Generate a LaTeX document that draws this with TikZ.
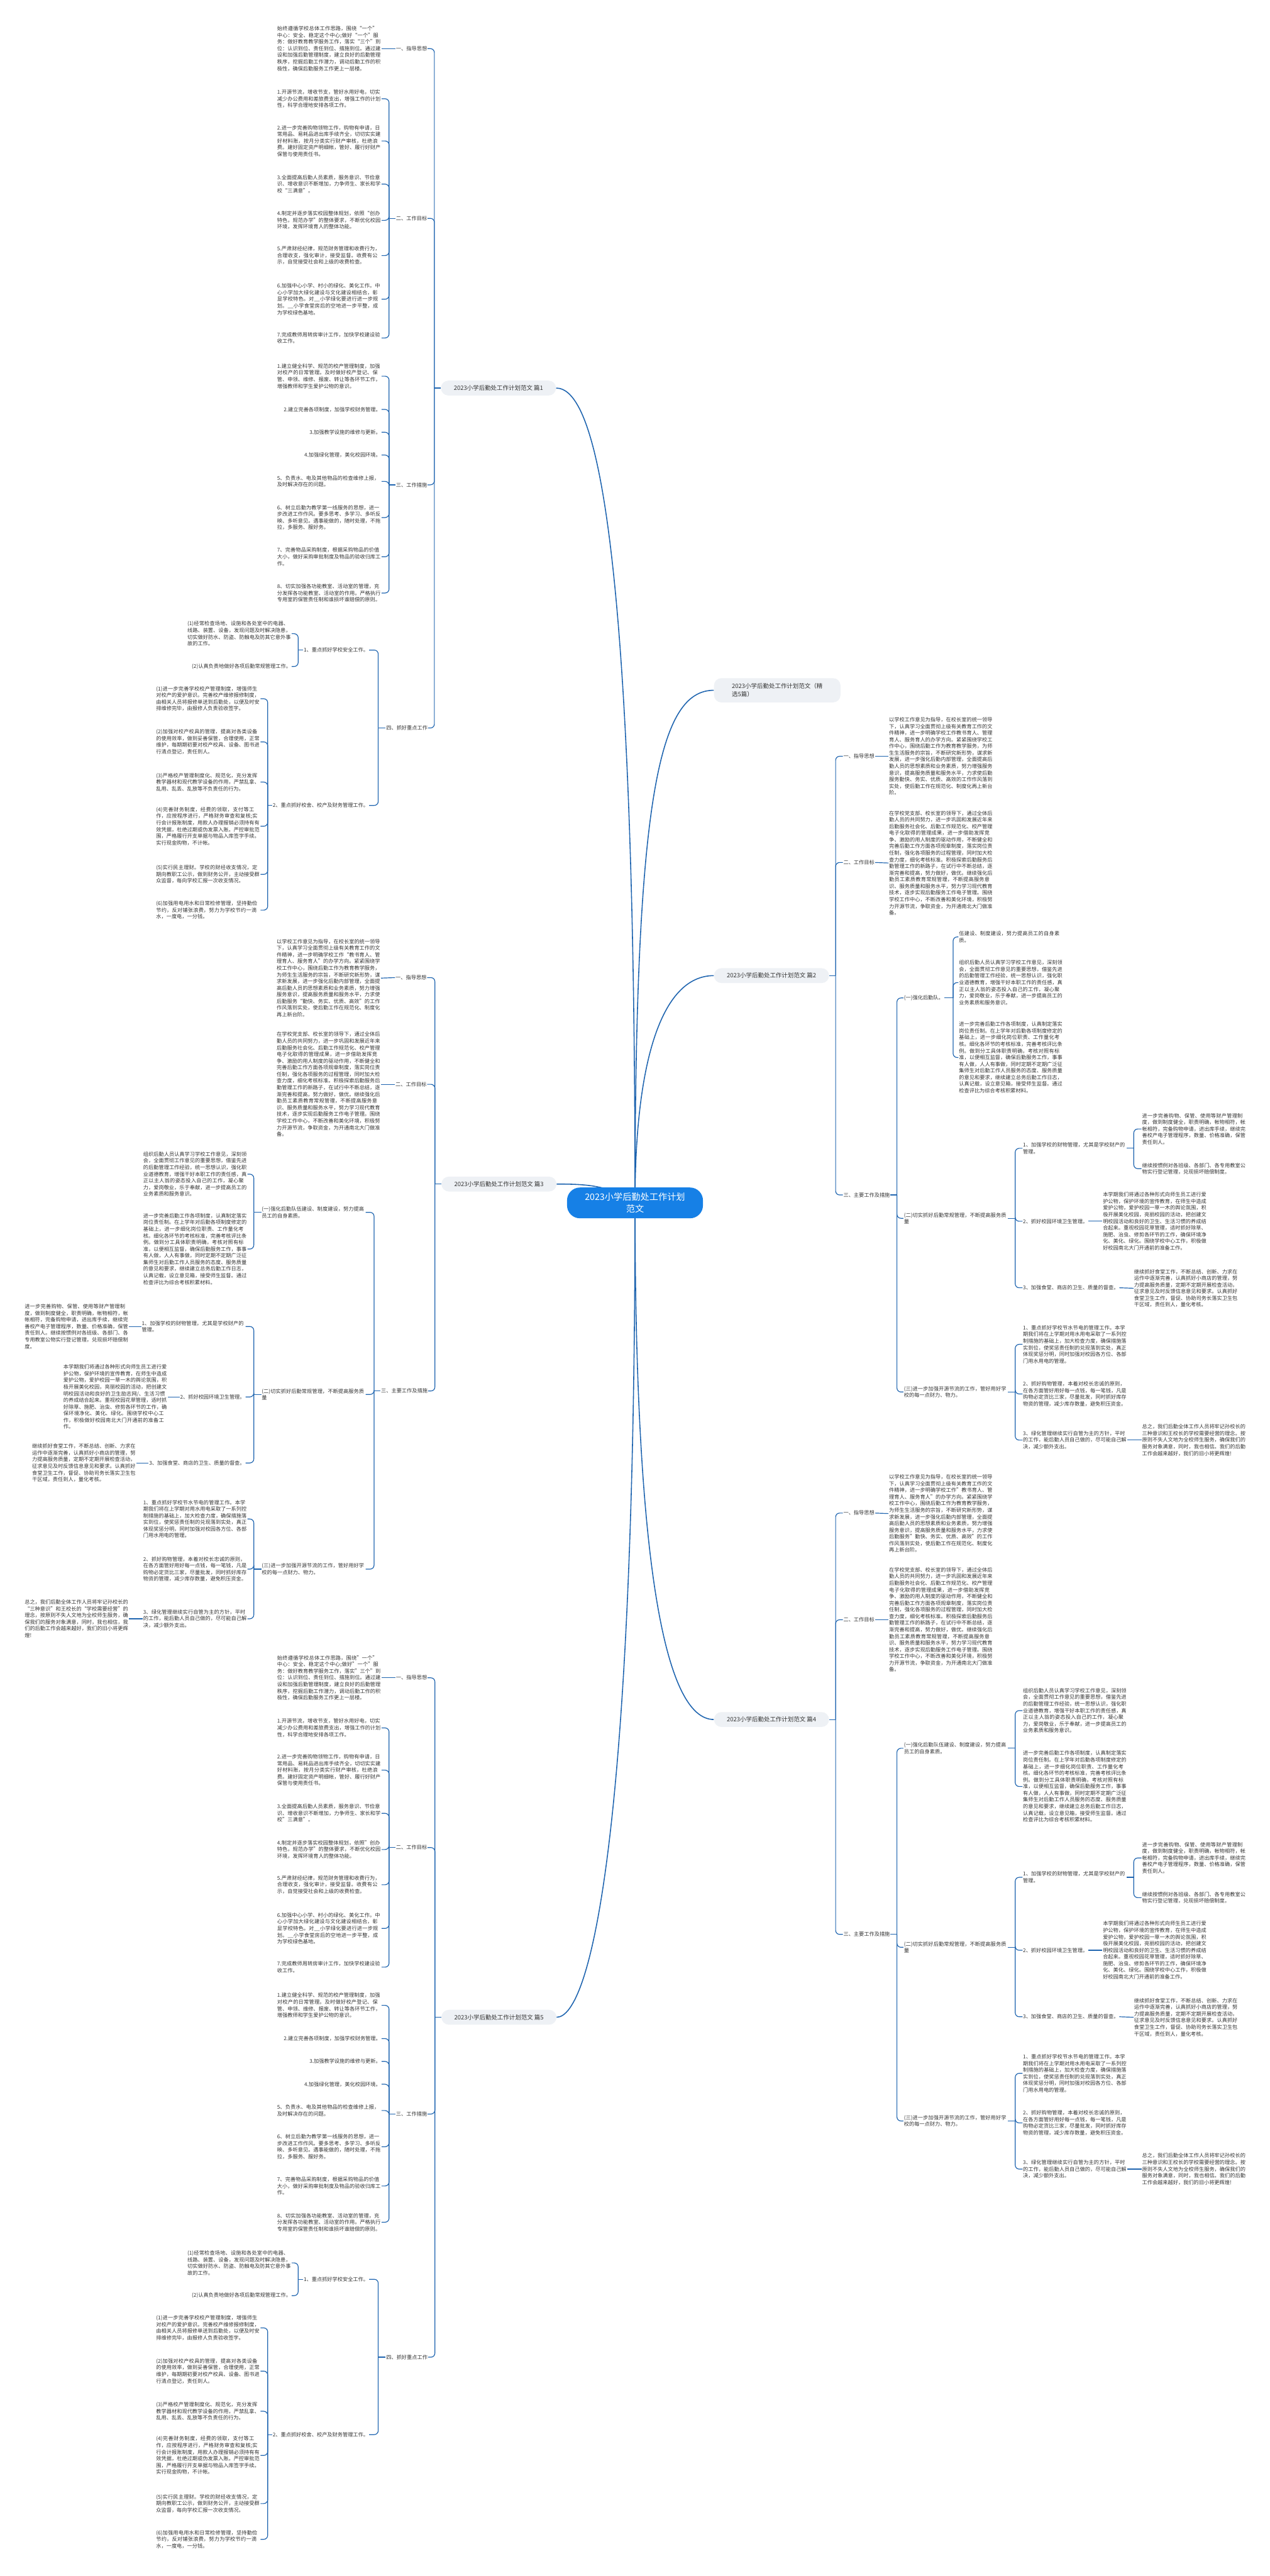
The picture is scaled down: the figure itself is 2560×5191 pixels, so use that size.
\documentclass[tikz,border=0pt]{standalone}
\usepackage{fontspec}
\setmainfont{Noto Sans CJK SC}
\usepackage{xcolor}
\usepackage{tikz}
\usetikzlibrary{backgrounds}
\XeTeXlinebreaklocale "zh"
\XeTeXlinebreakskip=0pt plus 1pt

\definecolor{rootblue}{RGB}{22,128,230}
\definecolor{linkblue}{RGB}{30,100,175}
\definecolor{partfill}{RGB}{238,241,245}
\definecolor{inkgray}{RGB}{51,51,51}

\begin{document}
\begin{tikzpicture}[x=1pt, y=-1pt,
    root/.style={rectangle, rounded corners=26pt, fill=rootblue, text=white, minimum width=274pt, minimum height=62pt, align=center, font=\fontsize{18}{24}\selectfont},
    part/.style={rectangle, rounded corners=15pt, fill=partfill, text=inkgray, minimum width=232pt, minimum height=30pt, align=left, font=\fontsize{12}{17}\selectfont},
    topic/.style={text=inkgray, inner sep=1pt, font=\fontsize{10.4}{13.4}\selectfont},
    topicw/.style={topic, text width=208pt, align=left},
    leaf/.style={topic, text width=209pt, align=left},
    trunk/.style={draw=linkblue, line width=2pt},
    link/.style={draw=linkblue, line width=1.5pt},
    brace/.style={draw=linkblue, line width=1.5pt, rounded corners=8pt}
]
    \useasboundingbox (0,0) rectangle (2560,5191);

    % centre and the six parts
    \node[root] (root) at (1280,2424) {2023小学后勤处工作计划\\范文};
    \node[part, anchor=west, minimum width=255pt, minimum height=49pt] (pick) at (1439,1391) {2023小学后勤处工作计划范文（精\\选5篇）};
    \node[part, anchor=east] (p1) at (1121,782) {2023小学后勤处工作计划范文 篇1};
    \node[part, anchor=west] (p2) at (1439,1966) {2023小学后勤处工作计划范文 篇2};
    \node[part, anchor=east] (p3) at (1122,2386) {2023小学后勤处工作计划范文 篇3};
    \node[part, anchor=west] (p4) at (1439,3465) {2023小学后勤处工作计划范文 篇4};
    \node[part, anchor=east] (p5) at (1122,4065) {2023小学后勤处工作计划范文 篇5};

    % 篇1
    \node[topic, anchor=east] (p1a) at (862,98) {一、指导思想};
    \node[leaf, anchor=east] (p1a1) at (769,98) {始终遵循学校总体工作思路，围绕“一个”中心：安全、稳定这个中心;做好“一个”服务：做好教育教学服务工作，落实“三个”到位：认识到位、责任到位、措施到位。通过建设和加强后勤管理制度，建立良好的后勤管理秩序，挖掘后勤工作潜力，调动后勤工作的积极性，确保后勤服务工作更上一层楼。};
    \node[topic, anchor=east] (p1b) at (862,440) {二、工作目标};
    \node[leaf, anchor=east] (p1b1) at (769,199) {1.开源节流，增收节支，管好水用好电，切实减少办公费用和差旅费支出，增强工作的计划性，科学合理地安排各项工作。};
    \node[leaf, anchor=east] (p1b2) at (769,284) {2.进一步完善购物领物工作，购物有申请，日常用品、易耗品进出库手续齐全，切切实实建好材料账，按月分类实行财产审核，杜绝浪费。建好固定资产明细帐，管好、履行好财产保管与使用责任书。};
    \node[leaf, anchor=east] (p1b3) at (769,371) {3.全面提高后勤人员素质，服务意识、节俭意识、增收意识不断增加，力争师生、家长和学校“三满意”。};
    \node[leaf, anchor=east] (p1b4) at (769,444) {4.制定并逐步落实校园整体规划，依照“创办特色，规范办学”的整体要求，不断优化校园环境，发挥环境育人的整体功能。};
    \node[leaf, anchor=east] (p1b5) at (769,515) {5.严肃财经纪律，规范财务管理和收费行为，合理收支，强化审计，接受监督。收费有公示，自觉接受社会和上级的收费检查。};
    \node[leaf, anchor=east] (p1b6) at (769,603) {6.加强中心小学、村小的绿化、美化工作。中心小学加大绿化建设与文化建设相结合，彰显学校特色。对\_\_小学绿化要进行进一步规划。\_\_小学食堂房后的空地进一步平整，成为学校绿色基地。};
    \node[leaf, anchor=east] (p1b7) at (769,681) {7.完成教师周转房审计工作，加快学校建设验收工作。};
    \node[topic, anchor=east] (p1c) at (862,977) {三、工作措施};
    \node[leaf, anchor=east] (p1c1) at (769,758) {1.建立健全科学、规范的校产管理制度，加强对校产的日常管理。及时做好校产登记、保管、申领、维修、报废、转让等各环节工作，增强教师和学生爱护公物的意识。};
    \node[topic, anchor=east] (p1c2) at (769,825) {2.建立完善各项制度，加强学校财务管理。};
    \node[topic, anchor=east] (p1c3) at (769,871) {3.加强教学设施的维修与更新。};
    \node[topic, anchor=east] (p1c4) at (769,917) {4.加强绿化管理，美化校园环境。};
    \node[leaf, anchor=east] (p1c5) at (769,970) {5、负责水、电及其他物品的检查维修上报，及时解决存在的问题。};
    \node[leaf, anchor=east] (p1c6) at (769,1043) {6、树立后勤为教学第一线服务的思想，进一步改进工作作风。要多思考、多学习、多听反映、多听意见。遇事能做的，随时处理，不拖拉，多服务、服好务。};
    \node[leaf, anchor=east] (p1c7) at (769,1122) {7、完善物品采购制度，根据采购物品的价值大小，做好采购审批制度及物品的验收归库工作。};
    \node[leaf, anchor=east] (p1c8) at (769,1195) {8、切实加强各功能教室、活动室的管理，充分发挥各功能教室、活动室的作用。严格执行专用室的保管责任制和谁损坏谁赔偿的原则。};
    \node[topic, anchor=east] (p1d) at (863,1467) {四、抓好重点工作};
    \node[topic, anchor=east] (p1d1) at (744,1310) {1、重点抓好学校安全工作。};
    \node[leaf, anchor=east] (p1d1a) at (588,1277) {(1)经常检查场地、设施和各处室中的电器、线路、装置、设备，发现问题及时解决隐患，切实做好防水、防盗、防触电及防其它意外事故的工作。};
    \node[topic, anchor=east] (p1d1b) at (588,1343) {(2)认真负责地做好各项后勤常规管理工作。};
    \node[topic, anchor=east] (p1d2) at (744,1623) {2、重点抓好校舍、校产及财务管理工作。};
    \node[leaf, anchor=east] (p1d2a) at (525,1408) {(1)进一步完善学校校产管理制度，增强师生对校产的爱护意识。完善校产维修报修制度，由相关人员将报修单送到后勤处，以便及时安排维修完毕，由报修人负责验收签字。};
    \node[leaf, anchor=east] (p1d2b) at (525,1495) {(2)加强对校产校具的管理，提高对各类设备的使用效率，做到妥善保管，合理使用，正常维护，每期期初要对校产校具、设备、图书进行清点登记，责任到人。};
    \node[leaf, anchor=east] (p1d2c) at (525,1576) {(3)严格校产管理制度化、规范化，充分发挥教学器材和现代教学设备的作用，严禁乱拿、乱用、乱丢、乱放等不负责任的行为。};
    \node[leaf, anchor=east] (p1d2d) at (525,1665) {(4)完善财务制度，经费的领取，支付等工作，应按程序进行，严格财务审查和复核;实行会计报账制度，用款人办理报销必须持有有效凭据，杜绝过期或伪发票入账。严控审批范围，严格履行开支单据与物品入库签字手续。实行现金购物，不计帐。};
    \node[leaf, anchor=east] (p1d2e) at (525,1762) {(5)实行民主理财。学校的财经收支情况，定期向教职工公示，做到财务公开，主动接受群众监督，每向学校汇报一次收支情况。};
    \node[leaf, anchor=east] (p1d2f) at (525,1834) {(6)加强用电用水和日常检修管理，坚持勤俭节约，反对铺张浪费，努力为学校节约一滴水，一度电，一分钱。};

    % 篇2
    \node[topic, anchor=west] (p2a) at (1699,1524) {一、指导思想};
    \node[leaf, anchor=west] (p2a1) at (1791,1524) {以学校工作意见为指导，在校长室的统一领导下，认真学习全面贯彻上级有关教育工作的文件精神，进一步明确学校工作教书育人、管理育人、服务育人的办学方向。紧紧围绕学校工作中心，围绕后勤工作为教育教学服务，为师生生活服务的宗旨，不断研究新形势，谋求新发展，进一步强化后勤内部管理，全面提高后勤人员的思想素质和业务素质，努力增强服务意识，提高服务质量和服务水平，力求使后勤服务勤快、务实、优质、高效的工作作风落到实处，使后勤工作在规范化、制度化再上新台阶。};
    \node[topic, anchor=west] (p2b) at (1699,1738) {二、工作目标};
    \node[leaf, anchor=west] (p2b1) at (1791,1739) {在学校党支部、校长室的领导下，通过全体后勤人员的共同努力，进一步巩固和发展近年来后勤服务社会化、后勤工作规范化、校产管理电子化取得的管理成果，进一步借助发挥竞争、激励的用人制度的驱动作用，不断健全和完善后勤工作方面各项规章制度，落实岗位责任制，强化各项服务的过程管理，同时加大检查力度，细化考核标准。积极探索后勤服务后勤管理工作的新路子，在试行中不断总结，逐渐完善和提高，努力做好，做优。继续强化后勤员工素质教育常规管理，不断提高服务意识、服务质量和服务水平，努力学习现代教育技术，逐步实现后勤服务工作电子管理。围绕学校工作中心，不断改善和美化环境，积极努力开源节流，争取资金，为开通南北大门做准备。};
    \node[topic, anchor=west] (p2c) at (1699,2408) {三、主要工作及措施};
    \node[topic, anchor=west] (p2c1) at (1821,2011) {(一)强化后勤队。};
    \node[leaf, anchor=west] (p2c1a) at (1932,1888) {伍建设、制度建设，努力提高员工的自身素质。};
    \node[leaf, anchor=west] (p2c1b) at (1932,1980) {组织后勤人员认真学习学校工作意见，深刻领会，全面贯彻工作意见的重要思想，借鉴先进的后勤管理工作经验，统一思想认识，强化职业道德教育，增强干好本职工作的责任感，真正以主人翁的姿态投入自己的工作，凝心聚力，爱岗敬业，乐于奉献，进一步提高员工的业务素质和服务意识。};
    \node[leaf, anchor=west] (p2c1c) at (1932,2131) {进一步完善后勤工作各项制度，认真制定落实岗位责任制。在上学年对后勤各项制度修定的基础上，进一步细化岗位职责、工作量化考核。细化各环节的考核标准，完善考核评比条例。做到分工具体职责明确，考核对照有标准，以便相互监督，确保后勤服务工作，事事有人做，人人有事做，同时定期不定期广泛征集师生对后勤工作人员服务的态度、服务质量的意见和要求，继续建立总务后勤工作日志，认真记载，设立意见箱，接受师生监督。通过检查评比为综合考核积累材料。};
    \node[topicw, anchor=west] (p2c2) at (1821,2455) {(二)切实抓好后勤常规管理，不断提高服务质量};
    \node[topicw, anchor=west] (p2c2a) at (2061,2314) {1、加强学校的财物管理，尤其是学校财产的管理。};
    \node[leaf, anchor=west] (p2c2a1) at (2301,2275) {进一步完善购物、保管、使用等财产管理制度，做到制度健全，职责明确，帐物相符，帐帐相符，完备购物申请，进出库手续，继续完善校产电子管理程序，数量、价格准确，保管责任到人。};
    \node[leaf, anchor=west] (p2c2a2) at (2301,2355) {继续按惯例对各班级、各部门、各专用教室公物实行登记管理，兑现损坏赔偿制度。};
    \node[topic, anchor=west] (p2c2b) at (2061,2461) {2、抓好校园环境卫生管理。};
    \node[leaf, anchor=west] (p2c2b1) at (2222,2461) {本学期我们将通过各种形式向师生员工进行爱护公物，保护环境的宣传教育，在师生中造成爱护公物，爱护校园一草一木的舆论氛围，积极开展美化校园，亮丽校园的活动，把创建文明校园活动和良好的卫生、生活习惯的养成结合起来。重视校园花草管理，适时抓好除草、施肥、治虫、修剪各环节的工作，确保环境净化、美化、绿化。围绕学校中心工作，积极做好校园南北大门开通前的准备工作。};
    \node[topic, anchor=west] (p2c2c) at (2061,2595) {3、加强食堂、商店的卫生、质量的督查。};
    \node[leaf, anchor=west] (p2c2c1) at (2285,2596) {继续抓好食堂工作，不断总结、创新、力求在运作中逐渐完善，认真抓好小商店的管理，努力提高服务质量，定期不定期开展检查活动，征求意见及时反馈信息意见和要求。认真抓好食堂卫生工作，督促、协助司务长落实卫生包干区域，责任到人，量化考核。};
    \node[topicw, anchor=west] (p2c3) at (1821,2805) {(三)进一步加强开源节流的工作，管好用好学校的每一点财力、物力。};
    \node[leaf, anchor=west] (p2c3a) at (2061,2709) {1、重点抓好学校节水节电的管理工作。本学期我们将在上学期对用水用电采取了一系列控制措施的基础上，加大检查力度，确保措施落实到位，使奖惩责任制的兑现落到实处，真正体现奖惩分明，同时加强对校园各方位、各部门用水用电的管理。};
    \node[leaf, anchor=west] (p2c3b) at (2061,2809) {2、抓好购物管理，本着对校长忠诚的原则，在各方面管好用好每一点钱，每一笔钱，凡是购物必定货比三家，尽量批发，同时抓好库存物资的管理，减少库存数量，避免积压资金。};
    \node[leaf, anchor=west] (p2c3c) at (2061,2902) {3、绿化管理继续实行自管为主的方针，平时的工作，能后勤人员自己做的，尽可能自己解决，减少额外支出。};
    \node[leaf, anchor=west] (p2c3c1) at (2301,2902) {总之，我们后勤全体工作人员将牢记孙校长的三种意识和王校长的学校需要经营的理念。按原则不失人文地为全校师生服务，确保我们的服务对象满意，同时，我也相信。我们的后勤工作会越来越好，我们的旧小将更辉煌!};

    % 篇3
    \node[topic, anchor=east] (p3a) at (861,1970) {一、指导思想};
    \node[leaf, anchor=east] (p3a1) at (768,1971) {以学校工作意见为指导，在校长室的统一领导下，认真学习全面贯彻上级有关教育工作的文件精神，进一步明确学校工作“教书育人、管理育人、服务育人”的办学方向。紧紧围绕学校工作中心，围绕后勤工作为教育教学服务，为师生生活服务的宗旨，不断研究新形势，谋求新发展，进一步强化后勤内部管理，全面提高后勤人员的思想素质和业务素质，努力增强服务意识，提高服务质量和服务水平，力求使后勤服务“勤快、务实、优质、高效”的工作作风落到实处，使后勤工作在规范化、制度化再上新台阶。};
    \node[topic, anchor=east] (p3b) at (861,2185) {二、工作目标};
    \node[leaf, anchor=east] (p3b1) at (768,2185) {在学校党支部、校长室的领导下，通过全体后勤人员的共同努力，进一步巩固和发展近年来后勤服务社会化、后勤工作规范化、校产管理电子化取得的管理成果，进一步借助发挥竞争、激励的用人制度的驱动作用，不断健全和完善后勤工作方面各项规章制度，落实岗位责任制，强化各项服务的过程管理，同时加大检查力度，细化考核标准。积极探索后勤服务后勤管理工作的新路子，在试行中不断总结，逐渐完善和提高，努力做好，做优。继续强化后勤员工素质教育常规管理，不断提高服务意识、服务质量和服务水平，努力学习现代教育技术，逐步实现后勤服务工作电子管理。围绕学校工作中心，不断改善和美化环境，积极努力开源节流，争取资金，为开通南北大门做准备。};
    \node[topic, anchor=east] (p3c) at (863,2803) {三、主要工作及措施};
    \node[topicw, anchor=east] (p3c1) at (737,2443) {(一)强化后勤队伍建设、制度建设，努力提高员工的自身素质。};
    \node[leaf, anchor=east] (p3c1a) at (499,2366) {组织后勤人员认真学习学校工作意见，深刻领会，全面贯彻工作意见的重要思想，借鉴先进的后勤管理工作经验，统一思想认识，强化职业道德教育，增强干好本职工作的责任感，真正以主人翁的姿态投入自己的工作，凝心聚力，爱岗敬业，乐于奉献，进一步提高员工的业务素质和服务意识。};
    \node[leaf, anchor=east] (p3c1b) at (499,2517) {进一步完善后勤工作各项制度，认真制定落实岗位责任制。在上学年对后勤各项制度修定的基础上，进一步细化岗位职责、工作量化考核。细化各环节的考核标准，完善考核评比条例。做到分工具体职责明确，考核对照有标准，以便相互监督，确保后勤服务工作，事事有人做，人人有事做，同时定期不定期广泛征集师生对后勤工作人员服务的态度、服务质量的意见和要求，继续建立总务后勤工作日志，认真记载，设立意见箱，接受师生监督。通过检查评比为综合考核积累材料。};
    \node[topicw, anchor=east] (p3c2) at (737,2810) {(二)切实抓好后勤常规管理，不断提高服务质量};
    \node[topicw, anchor=east] (p3c2a) at (495,2673) {1、加强学校的财物管理，尤其是学校财产的管理。};
    \node[leaf, anchor=east] (p3c2a1) at (260,2673) {进一步完善购物、保管、使用等财产管理制度，做到制度健全，职责明确，帐物相符，帐帐相符，完备购物申请，进出库手续，继续完善校产电子管理程序，数量、价格准确，保管责任到人。继续按惯例对各班级、各部门、各专用教室公物实行登记管理，兑现损坏赔偿制度。};
    \node[topic, anchor=east] (p3c2b) at (495,2815) {2、抓好校园环境卫生管理。};
    \node[leaf, anchor=east] (p3c2b1) at (338,2815) {本学期我们将通过各种形式向师生员工进行爱护公物，保护环境的宣传教育，在师生中造成爱护公物，爱护校园一草一木的舆论氛围，积极开展美化校园，亮丽校园的活动，把创建文明校园活动和良好的卫生励志网/、生活习惯的养成结合起来。重视校园花草管理，适时抓好除草、施肥、治虫、修剪各环节的工作，确保环境净化、美化、绿化。围绕学校中心工作，积极做好校园南北大门开通前的准备工作。};
    \node[topic, anchor=east] (p3c2c) at (495,2948) {3、加强食堂、商店的卫生、质量的督查。};
    \node[leaf, anchor=east] (p3c2c1) at (275,2948) {继续抓好食堂工作，不断总结、创新、力求在运作中逐渐完善，认真抓好小商店的管理，努力提高服务质量，定期不定期开展检查活动，征求意见及时反馈信息意见和要求。认真抓好食堂卫生工作，督促、协助司务长落实卫生包干区域，责任到人，量化考核。};
    \node[topicw, anchor=east] (p3c3) at (737,3162) {(三)进一步加强开源节流的工作，管好用好学校的每一点财力、物力。};
    \node[leaf, anchor=east] (p3c3a) at (499,3061) {1、重点抓好学校节水节电的管理工作。本学期我们将在上学期对用水用电采取了一系列控制措施的基础上，加大检查力度，确保措施落实到位，使奖惩责任制的兑现落到实处，真正体现奖惩分明，同时加强对校园各方位、各部门用水用电的管理。};
    \node[leaf, anchor=east] (p3c3b) at (499,3162) {2、抓好购物管理，本着对校长忠诚的原则，在各方面管好用好每一点钱，每一笔钱，凡是购物必定货比三家，尽量批发，同时抓好库存物资的管理，减少库存数量，避免积压资金。};
    \node[leaf, anchor=east] (p3c3c) at (499,3262) {3、绿化管理继续实行自管为主的方针，平时的工作，能后勤人员自己做的，尽可能自己解决，减少额外支出。};
    \node[leaf, anchor=east] (p3c3c1) at (260,3262) {总之，我们后勤全体工作人员将牢记孙校长的“三种意识”和王校长的“学校需要经营”的理念，按原则不失人文地为全校师生服务，确保我们的服务对象满意，同时，我也相信，我们的后勤工作会越来越好，我们的旧小将更辉煌!};

    % 篇4
    \node[topic, anchor=west] (p4a) at (1699,3049) {一、指导思想};
    \node[leaf, anchor=west] (p4a1) at (1791,3050) {以学校工作意见为指导，在校长室的统一领导下，认真学习全面贯彻上级有关教育工作的文件精神，进一步明确学校工作"教书育人、管理育人、服务育人"的办学方向。紧紧围绕学校工作中心，围绕后勤工作为教育教学服务，为师生生活服务的宗旨，不断研究新形势，谋求新发展，进一步强化后勤内部管理，全面提高后勤人员的思想素质和业务素质，努力增强服务意识，提高服务质量和服务水平，力求使后勤服务"勤快、务实、优质、高效"的工作作风落到实处，使后勤工作在规范化、制度化再上新台阶。};
    \node[topic, anchor=west] (p4b) at (1699,3264) {二、工作目标};
    \node[leaf, anchor=west] (p4b1) at (1791,3264) {在学校党支部、校长室的领导下，通过全体后勤人员的共同努力，进一步巩固和发展近年来后勤服务社会化、后勤工作规范化、校产管理电子化取得的管理成果，进一步借助发挥竞争、激励的用人制度的驱动作用，不断健全和完善后勤工作方面各项规章制度，落实岗位责任制，强化各项服务的过程管理，同时加大检查力度，细化考核标准。积极探索后勤服务后勤管理工作的新路子，在试行中不断总结，逐渐完善和提高，努力做好，做优。继续强化后勤员工素质教育常规管理，不断提高服务意识、服务质量和服务水平，努力学习现代教育技术，逐步实现后勤服务工作电子管理。围绕学校工作中心，不断改善和美化环境，积极努力开源节流，争取资金，为开通南北大门做准备。};
    \node[topic, anchor=west] (p4c) at (1699,3898) {三、主要工作及措施};
    \node[topicw, anchor=west] (p4c1) at (1821,3523) {(一)强化后勤队伍建设、制度建设，努力提高员工的自身素质。};
    \node[leaf, anchor=west] (p4c1a) at (2061,3447) {组织后勤人员认真学习学校工作意见，深刻领会，全面贯彻工作意见的重要思想，借鉴先进的后勤管理工作经验，统一思想认识，强化职业道德教育，增强干好本职工作的责任感，真正以主人翁的姿态投入自己的工作，凝心聚力，爱岗敬业，乐于奉献，进一步提高员工的业务素质和服务意识。};
    \node[leaf, anchor=west] (p4c1b) at (2061,3600) {进一步完善后勤工作各项制度，认真制定落实岗位责任制。在上学年对后勤各项制度修定的基础上，进一步细化岗位职责、工作量化考核。细化各环节的考核标准，完善考核评比条例。做到分工具体职责明确，考核对照有标准，以便相互监督，确保后勤服务工作，事事有人做，人人有事做，同时定期不定期广泛征集师生对后勤工作人员服务的态度、服务质量的意见和要求，继续建立总务后勤工作日志，认真记载，设立意见箱，接受师生监督。通过检查评比为综合考核积累材料。};
    \node[topicw, anchor=west] (p4c2) at (1821,3924) {(二)切实抓好后勤常规管理，不断提高服务质量};
    \node[topicw, anchor=west] (p4c2a) at (2061,3783) {1、加强学校的财物管理，尤其是学校财产的管理。};
    \node[leaf, anchor=west] (p4c2a1) at (2301,3744) {进一步完善购物、保管、使用等财产管理制度，做到制度健全，职责明确，帐物相符，帐帐相符，完备购物申请，进出库手续，继续完善校产电子管理程序，数量、价格准确，保管责任到人。};
    \node[leaf, anchor=west] (p4c2a2) at (2301,3824) {继续按惯例对各班级、各部门、各专用教室公物实行登记管理，兑现损坏赔偿制度。};
    \node[topic, anchor=west] (p4c2b) at (2061,3930) {2、抓好校园环境卫生管理。};
    \node[leaf, anchor=west] (p4c2b1) at (2222,3930) {本学期我们将通过各种形式向师生员工进行爱护公物，保护环境的宣传教育，在师生中造成爱护公物，爱护校园一草一木的舆论氛围，积极开展美化校园，亮丽校园的活动，把创建文明校园活动和良好的卫生、生活习惯的养成结合起来。重视校园花草管理，适时抓好除草、施肥、治虫、修剪各环节的工作，确保环境净化、美化、绿化。围绕学校中心工作，积极做好校园南北大门开通前的准备工作。};
    \node[topic, anchor=west] (p4c2c) at (2061,4064) {3、加强食堂、商店的卫生、质量的督查。};
    \node[leaf, anchor=west] (p4c2c1) at (2285,4065) {继续抓好食堂工作，不断总结、创新、力求在运作中逐渐完善，认真抓好小商店的管理，努力提高服务质量，定期不定期开展检查活动，征求意见及时反馈信息意见和要求。认真抓好食堂卫生工作，督促、协助司务长落实卫生包干区域，责任到人，量化考核。};
    \node[topicw, anchor=west] (p4c3) at (1821,4274) {(三)进一步加强开源节流的工作，管好用好学校的每一点财力、物力。};
    \node[leaf, anchor=west] (p4c3a) at (2061,4178) {1、重点抓好学校节水节电的管理工作。本学期我们将在上学期对用水用电采取了一系列控制措施的基础上，加大检查力度，确保措施落实到位，使奖惩责任制的兑现落到实处，真正体现奖惩分明，同时加强对校园各方位、各部门用水用电的管理。};
    \node[leaf, anchor=west] (p4c3b) at (2061,4278) {2、抓好购物管理，本着对校长忠诚的原则，在各方面管好用好每一点钱，每一笔钱，凡是购物必定货比三家，尽量批发，同时抓好库存物资的管理，减少库存数量，避免积压资金。};
    \node[leaf, anchor=west] (p4c3c) at (2061,4371) {3、绿化管理继续实行自管为主的方针，平时的工作，能后勤人员自己做的，尽可能自己解决，减少额外支出。};
    \node[leaf, anchor=west] (p4c3c1) at (2301,4371) {总之，我们后勤全体工作人员将牢记孙校长的三种意识和王校长的学校需要经营的理念。按原则不失人文地为全校师生服务，确保我们的服务对象满意，同时，我也相信。我们的后勤工作会越来越好，我们的旧小将更辉煌!};

    % 篇5: same block as 篇1, one step lower
    \begin{scope}[yshift=-3283pt]
    \node[topic, anchor=east] (p5a) at (862,98) {一、指导思想};
    \node[leaf, anchor=east] (p5a1) at (769,98) {始终遵循学校总体工作思路，围绕"一个"中心：安全、稳定这个中心;做好"一个"服务：做好教育教学服务工作，落实"三个"到位：认识到位、责任到位、措施到位。通过建设和加强后勤管理制度，建立良好的后勤管理秩序，挖掘后勤工作潜力，调动后勤工作的积极性，确保后勤服务工作更上一层楼。};
    \node[topic, anchor=east] (p5b) at (862,440) {二、工作目标};
    \node[leaf, anchor=east] (p5b1) at (769,199) {1.开源节流，增收节支，管好水用好电，切实减少办公费用和差旅费支出，增强工作的计划性，科学合理地安排各项工作。};
    \node[leaf, anchor=east] (p5b2) at (769,284) {2.进一步完善购物领物工作，购物有申请，日常用品、易耗品进出库手续齐全，切切实实建好材料账，按月分类实行财产审核，杜绝浪费。建好固定资产明细帐，管好、履行好财产保管与使用责任书。};
    \node[leaf, anchor=east] (p5b3) at (769,371) {3.全面提高后勤人员素质，服务意识、节俭意识、增收意识不断增加，力争师生、家长和学校"三满意"。};
    \node[leaf, anchor=east] (p5b4) at (769,444) {4.制定并逐步落实校园整体规划，依照"创办特色，规范办学"的整体要求，不断优化校园环境，发挥环境育人的整体功能。};
    \node[leaf, anchor=east] (p5b5) at (769,515) {5.严肃财经纪律，规范财务管理和收费行为，合理收支，强化审计，接受监督。收费有公示，自觉接受社会和上级的收费检查。};
    \node[leaf, anchor=east] (p5b6) at (769,603) {6.加强中心小学、村小的绿化、美化工作。中心小学加大绿化建设与文化建设相结合，彰显学校特色。对\_\_小学绿化要进行进一步规划。\_\_小学食堂房后的空地进一步平整，成为学校绿色基地。};
    \node[leaf, anchor=east] (p5b7) at (769,681) {7.完成教师周转房审计工作，加快学校建设验收工作。};
    \node[topic, anchor=east] (p5c) at (862,977) {三、工作措施};
    \node[leaf, anchor=east] (p5c1) at (769,758) {1.建立健全科学、规范的校产管理制度，加强对校产的日常管理。及时做好校产登记、保管、申领、维修、报废、转让等各环节工作，增强教师和学生爱护公物的意识。};
    \node[topic, anchor=east] (p5c2) at (769,825) {2.建立完善各项制度，加强学校财务管理。};
    \node[topic, anchor=east] (p5c3) at (769,871) {3.加强教学设施的维修与更新。};
    \node[topic, anchor=east] (p5c4) at (769,917) {4.加强绿化管理，美化校园环境。};
    \node[leaf, anchor=east] (p5c5) at (769,970) {5、负责水、电及其他物品的检查维修上报，及时解决存在的问题。};
    \node[leaf, anchor=east] (p5c6) at (769,1043) {6、树立后勤为教学第一线服务的思想，进一步改进工作作风。要多思考、多学习、多听反映、多听意见。遇事能做的，随时处理，不拖拉，多服务、服好务。};
    \node[leaf, anchor=east] (p5c7) at (769,1122) {7、完善物品采购制度，根据采购物品的价值大小，做好采购审批制度及物品的验收归库工作。};
    \node[leaf, anchor=east] (p5c8) at (769,1195) {8、切实加强各功能教室、活动室的管理，充分发挥各功能教室、活动室的作用。严格执行专用室的保管责任制和谁损坏谁赔偿的原则。};
    \node[topic, anchor=east] (p5d) at (863,1467) {四、抓好重点工作};
    \node[topic, anchor=east] (p5d1) at (744,1310) {1、重点抓好学校安全工作。};
    \node[leaf, anchor=east] (p5d1a) at (588,1277) {(1)经常检查场地、设施和各处室中的电器、线路、装置、设备，发现问题及时解决隐患，切实做好防水、防盗、防触电及防其它意外事故的工作。};
    \node[topic, anchor=east] (p5d1b) at (588,1343) {(2)认真负责地做好各项后勤常规管理工作。};
    \node[topic, anchor=east] (p5d2) at (744,1623) {2、重点抓好校舍、校产及财务管理工作。};
    \node[leaf, anchor=east] (p5d2a) at (525,1408) {(1)进一步完善学校校产管理制度，增强师生对校产的爱护意识。完善校产维修报修制度，由相关人员将报修单送到后勤处，以便及时安排维修完毕，由报修人负责验收签字。};
    \node[leaf, anchor=east] (p5d2b) at (525,1495) {(2)加强对校产校具的管理，提高对各类设备的使用效率，做到妥善保管，合理使用，正常维护，每期期初要对校产校具、设备、图书进行清点登记，责任到人。};
    \node[leaf, anchor=east] (p5d2c) at (525,1576) {(3)严格校产管理制度化、规范化，充分发挥教学器材和现代教学设备的作用，严禁乱拿、乱用、乱丢、乱放等不负责任的行为。};
    \node[leaf, anchor=east] (p5d2d) at (525,1665) {(4)完善财务制度，经费的领取，支付等工作，应按程序进行，严格财务审查和复核;实行会计报账制度，用款人办理报销必须持有有效凭据，杜绝过期或伪发票入账。严控审批范围，严格履行开支单据与物品入库签字手续。实行现金购物，不计帐。};
    \node[leaf, anchor=east] (p5d2e) at (525,1762) {(5)实行民主理财。学校的财经收支情况，定期向教职工公示，做到财务公开，主动接受群众监督，每向学校汇报一次收支情况。};
    \node[leaf, anchor=east] (p5d2f) at (525,1834) {(6)加强用电用水和日常检修管理，坚持勤俭节约，反对铺张浪费，努力为学校节约一滴水，一度电，一分钱。};
    \end{scope}

    \begin{pgfonlayer}{background}
    % trunk curves out of the centre
    \draw[trunk] (root.center) .. controls (1280,1000) and (1190,782) .. (p1.east);
    \draw[trunk] (root.center) .. controls (1230,2388) and (1180,2386) .. (p3.east);
    \draw[trunk] (root.center) .. controls (1280,3700) and (1190,4065) .. (p5.east);
    \draw[trunk] (root.center) .. controls (1280,1600) and (1330,1391) .. (pick.west);
    \draw[trunk] (root.center) .. controls (1280,2150) and (1330,1966) .. (p2.west);
    \draw[trunk] (root.center) .. controls (1280,3150) and (1340,3465) .. (p4.west);

    % 篇1 and 篇5 brackets
    \foreach \q in {p1,p5} {
        \draw[link] (\q.west) -- ++(-13,0) coordinate (\q s);
        \foreach \k in {a,b,c,d} \draw[brace] (\q s) |- (\q\k.east);
        \draw[link] (\q a.west) -- (\q a1.east);
        \draw[link] (\q b.west) -- ++(-13,0) coordinate (\q bs);
        \foreach \k in {1,...,7} \draw[brace] (\q bs) |- (\q b\k.east);
        \draw[link] (\q c.west) -- ++(-13,0) coordinate (\q cs);
        \foreach \k in {1,...,8} \draw[brace] (\q cs) |- (\q c\k.east);
        \draw[link] (\q d.west) -- ++(-15,0) coordinate (\q ds);
        \foreach \k in {1,2} \draw[brace] (\q ds) |- (\q d\k.east);
        \draw[link] (\q d1.west) -- ++(-10,0) coordinate (\q d1s);
        \foreach \k in {a,b} \draw[brace] (\q d1s) |- (\q d1\k.east);
        \draw[link] (\q d2.west) -- ++(-9,0) coordinate (\q d2s);
        \foreach \k in {a,...,f} \draw[brace] (\q d2s) |- (\q d2\k.east);
    }

    % 篇3 brackets
    \draw[link] (p3.west) -- ++(-13,0) coordinate (p3s);
    \foreach \k in {a,b,c} \draw[brace] (p3s) |- (p3\k.east);
    \draw[link] (p3a.west) -- (p3a1.east);
    \draw[link] (p3b.west) -- (p3b1.east);
    \draw[link] (p3c.west) -- ++(-13,0) coordinate (p3cs);
    \foreach \k in {1,2,3} \draw[brace] (p3cs) |- (p3c\k.east);
    \draw[link] (p3c1.west) -- ++(-15,0) coordinate (p3c1s);
    \foreach \k in {a,b} \draw[brace] (p3c1s) |- (p3c1\k.east);
    \draw[link] (p3c2.west) -- ++(-15,0) coordinate (p3c2s);
    \foreach \k in {a,b,c} \draw[brace] (p3c2s) |- (p3c2\k.east);
    \foreach \k in {a,b,c} \draw[link] (p3c2\k.west) -- (p3c2\k1.east);
    \draw[link] (p3c3.west) -- ++(-15,0) coordinate (p3c3s);
    \foreach \k in {a,b,c} \draw[brace] (p3c3s) |- (p3c3\k.east);
    \draw[link] (p3c3c.west) -- (p3c3c1.east);

    % 篇2 and 篇4 brackets
    \foreach \q in {p2,p4} {
        \draw[link] (\q.east) -- ++(13,0) coordinate (\q s);
        \foreach \k in {a,b,c} \draw[brace] (\q s) |- (\q\k.west);
        \draw[link] (\q a.east) -- (\q a1.west);
        \draw[link] (\q b.east) -- (\q b1.west);
        \draw[link] (\q c.east) -- ++(13,0) coordinate (\q cs);
        \foreach \k in {1,2,3} \draw[brace] (\q cs) |- (\q c\k.west);
        \draw[link] (\q c2.east) -- ++(15,0) coordinate (\q c2s);
        \foreach \k in {a,b,c} \draw[brace] (\q c2s) |- (\q c2\k.west);
        \draw[link] (\q c2a.east) -- ++(14,0) coordinate (\q c2as);
        \foreach \k in {1,2} \draw[brace] (\q c2as) |- (\q c2a\k.west);
        \draw[link] (\q c2b.east) -- (\q c2b1.west);
        \draw[link] (\q c2c.east) -- (\q c2c1.west);
        \draw[link] (\q c3.east) -- ++(15,0) coordinate (\q c3s);
        \foreach \k in {a,b,c} \draw[brace] (\q c3s) |- (\q c3\k.west);
        \draw[link] (\q c3c.east) -- (\q c3c1.west);
    }
    \draw[link] (p2c1.east) -- ++(18,0) coordinate (p2c1s);
    \foreach \k in {a,b,c} \draw[brace] (p2c1s) |- (p2c1\k.west);
    \draw[link] (p4c1.east) -- ++(15,0) coordinate (p4c1s);
    \foreach \k in {a,b} \draw[brace] (p4c1s) |- (p4c1\k.west);
    \end{pgfonlayer}
\end{tikzpicture}
\end{document}
